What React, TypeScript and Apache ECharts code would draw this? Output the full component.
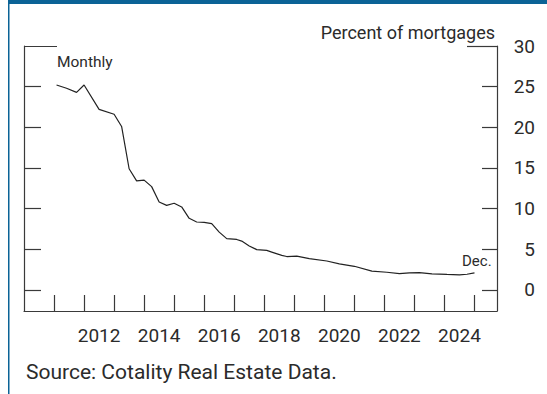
import React, { useEffect, useRef } from "react";
import * as echarts from "echarts";

// Monthly series, read at roughly quarterly points (month = end of month)
const months = [
  "2011-01", "2011-05", "2011-09", "2011-12",
  "2012-06", "2012-12",
  "2013-03", "2013-06", "2013-09", "2013-12",
  "2014-03", "2014-06", "2014-09", "2014-12",
  "2015-03", "2015-06", "2015-09", "2015-12",
  "2016-03", "2016-06", "2016-09",
  "2017-01", "2017-03", "2017-06", "2017-09",
  "2018-01", "2018-03", "2018-07", "2018-09",
  "2019-01", "2019-06",
  "2020-01", "2020-06", "2020-12",
  "2021-07",
  "2022-01", "2022-06", "2022-10",
  "2023-02", "2023-07",
  "2024-01", "2024-06", "2024-09", "2024-12",
];
const values = [
  25.2, 24.8, 24.3, 25.2,
  22.2, 21.6,
  20.1, 14.9, 13.4, 13.5,
  12.7, 10.8, 10.4, 10.65,
  10.2, 8.8, 8.35, 8.3,
  8.15, 7.1, 6.3,
  6.2, 6.0, 5.4, 4.95,
  4.85, 4.65, 4.25, 4.1,
  4.15, 3.85,
  3.55, 3.2, 2.9,
  2.3,
  2.17, 2.0, 2.1,
  2.13, 1.97,
  1.9, 1.85, 1.92, 2.1,
];

const yTickValues = [0, 5, 10, 15, 20, 25];
const yLabelValues = [0, 5, 10, 15, 20, 25, 30];
const xTickYears = [2011, 2012, 2013, 2014, 2015, 2016, 2017, 2018, 2019, 2020, 2021, 2022, 2023, 2024, 2025];
const xLabelYears = [2012, 2014, 2016, 2018, 2020, 2022, 2024];

const FONT = "Roboto";
const AXIS = "#3a3a3a";
const TEXT = "#2b2b2b";
const BLUE = "#0b6396";

export default function App() {
  const ref = useRef<HTMLDivElement>(null);
  useEffect(() => {
    const chart = echarts.init(ref.current!, null, { renderer: "svg" });
    const data = months.map((m, i) => {
      const [y, mo] = m.split("-").map(Number);
      return [y + mo / 12, values[i]];
    });
    const lineStyle = { color: AXIS, width: 1.2 };
    const yBase: any = {
      type: "value",
      min: -2.6,
      max: 30,
      splitLine: { show: false },
      axisLabel: { show: false },
      axisTick: { show: false },
      axisLine: { show: false, onZero: false },
    };
    chart.setOption({
      animation: false,
      backgroundColor: "#ffffff",
      grid: { left: 24, right: 50, top: 46, bottom: 83 },
      xAxis: {
        type: "value",
        min: 2010,
        max: 2025.75,
        position: "bottom",
        splitLine: { show: false },
        axisLine: { show: true, onZero: false, lineStyle },
        axisTick: { show: true, inside: true, length: 16, customValues: xTickYears, lineStyle },
        axisLabel: {
          show: true,
          customValues: xLabelYears.map((y) => y + 0.5),
          formatter: (v: number) => String(Math.floor(v)),
          margin: 15,
          fontSize: 19,
          fontFamily: FONT,
          color: TEXT,
        },
      },
      yAxis: [
        {
          ...yBase,
          position: "right",
          axisLine: { show: true, onZero: false, lineStyle },
          axisTick: { show: true, inside: true, length: 15, customValues: yTickValues, lineStyle },
          axisLabel: {
            show: true,
            customValues: yLabelValues,
            align: "right",
            margin: 38,
            fontSize: 19,
            fontFamily: FONT,
            color: TEXT,
            showMinLabel: true,
            showMaxLabel: true,
          },
        },
        {
          ...yBase,
          position: "right",
          axisTick: { show: true, inside: true, length: 30, customValues: [30], lineStyle },
        },
        {
          ...yBase,
          position: "left",
          axisLine: { show: true, onZero: false, lineStyle },
          axisTick: { show: true, inside: true, length: 17, customValues: yTickValues, lineStyle },
        },
        {
          ...yBase,
          position: "left",
          axisTick: { show: true, inside: true, length: 33, customValues: [30], lineStyle },
        },
      ],
      series: [
        {
          type: "line",
          xAxisIndex: 0,
          yAxisIndex: 0,
          data,
          showSymbol: false,
          symbol: "none",
          silent: true,
          lineStyle: { color: "#222222", width: 1.2 },
        },
      ],
      graphic: [
        { type: "rect", shape: { x: 8, y: 0, width: 539, height: 4 }, style: { fill: BLUE }, silent: true },
        { type: "rect", shape: { x: 8, y: 0, width: 1.5, height: 394 }, style: { fill: BLUE }, silent: true },
        {
          type: "text",
          x: 495,
          y: 32,
          style: { text: "Percent of mortgages", align: "right", verticalAlign: "middle", fontSize: 18, fontFamily: FONT, fill: TEXT },
        },
        {
          type: "text",
          x: 57,
          y: 62,
          style: { text: "Monthly", align: "left", verticalAlign: "middle", fontSize: 15.5, fontFamily: FONT, fill: TEXT },
        },
        {
          type: "text",
          x: 462,
          y: 261,
          style: { text: "Dec.", align: "left", verticalAlign: "middle", fontSize: 15, fontFamily: FONT, fill: TEXT },
        },
        {
          type: "text",
          x: 26,
          y: 372,
          style: { text: "Source: Cotality Real Estate Data.", align: "left", verticalAlign: "middle", fontSize: 21, fontFamily: FONT, fill: TEXT },
        },
      ],
    });
    return () => chart.dispose();
  }, []);
  return (
    <div
      ref={ref}
      style={{ position: "fixed", left: 0, top: 0, width: 547, height: 394, background: "#fff" }}
    />
  );
}
